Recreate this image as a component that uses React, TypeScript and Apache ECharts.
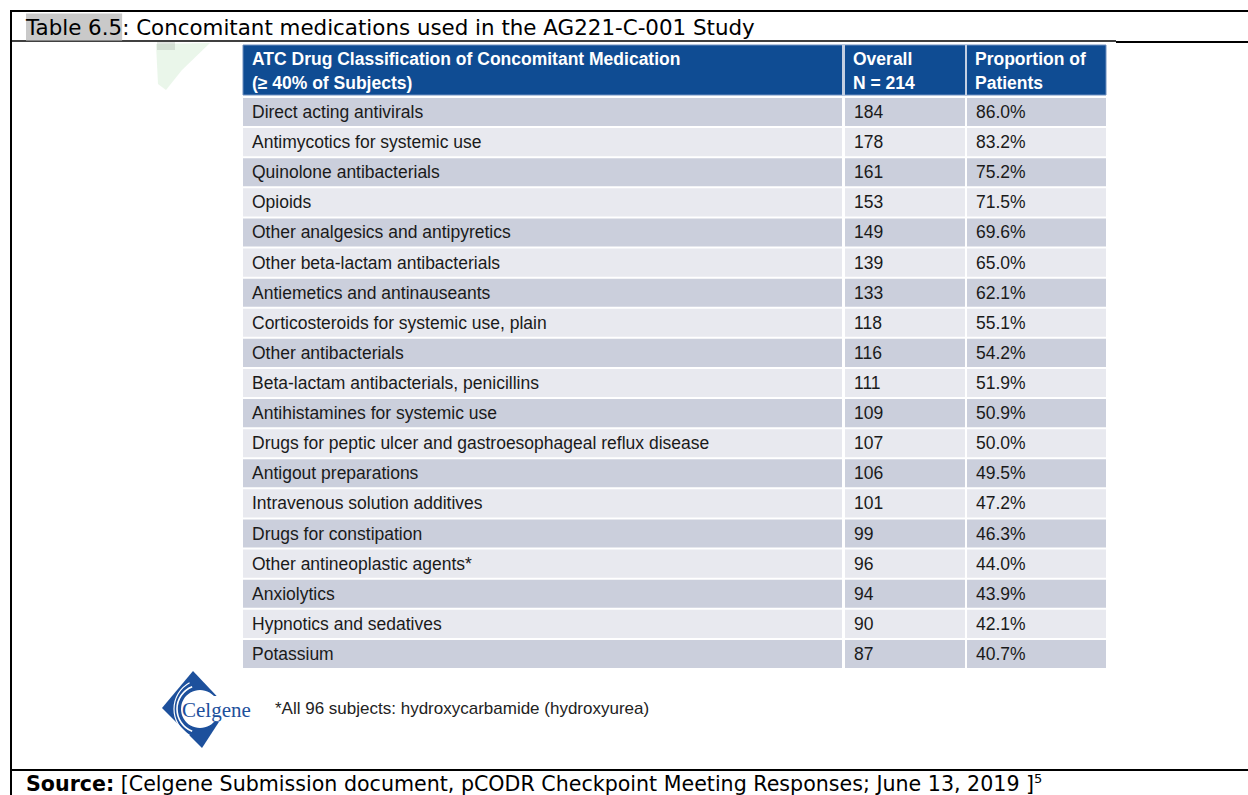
import React, { useEffect, useRef } from "react";
import * as echarts from "echarts";

const categories = [
  "Direct acting antivirals",
  "Antimycotics for systemic use",
  "Quinolone antibacterials",
  "Opioids",
  "Other analgesics and antipyretics",
  "Other beta-lactam antibacterials",
  "Antiemetics and antinauseants",
  "Corticosteroids for systemic use, plain",
  "Other antibacterials",
  "Beta-lactam antibacterials, penicillins",
  "Antihistamines for systemic use",
  "Drugs for peptic ulcer and gastroesophageal reflux disease",
  "Antigout preparations",
  "Intravenous solution additives",
  "Drugs for constipation",
  "Other antineoplastic agents*",
  "Anxiolytics",
  "Hypnotics and sedatives",
  "Potassium",
];
const overall = [184, 178, 161, 153, 149, 139, 133, 118, 116, 111, 109, 107, 106, 101, 99, 96, 94, 90, 87];
const proportion = [86.0, 83.2, 75.2, 71.5, 69.6, 65.0, 62.1, 55.1, 54.2, 51.9, 50.9, 50.0, 49.5, 47.2, 46.3, 44.0, 43.9, 42.1, 40.7];

const headerCol1 = ["ATC Drug Classification of Concomitant Medication", "(\u2265 40% of Subjects)"];
const headerCol2 = ["Overall", "N = 214"];
const headerCol3 = ["Proportion of", "Patients"];

const titleLead = "Table 6.5";
const titleRest = ": Concomitant medications used in the AG221-C-001 Study";
const footnote = "*All 96 subjects: hydroxycarbamide (hydroxyurea)";
const sourceLabel = "Source:";
const sourceText = " [Celgene Submission document, pCODR Checkpoint Meeting Responses; June 13, 2019 ]";

export default function App() {
  const ref = useRef<HTMLDivElement>(null);
  useEffect(() => {
    if (!ref.current) return;
    const chart = echarts.init(ref.current, null, { renderer: "svg" });
    const DARK = "#cbcfdc";
    const LIGHT = "#e8e9ef";
    const BLUE = "#0f4c93";
    const CELL_FONT = "17.5px 'Liberation Sans', Arial, sans-serif";
    const HEAD_FONT = "bold 17.5px 'Liberation Sans', Arial, sans-serif";
    const DOC_FONT = "'DejaVu Sans', Tahoma, sans-serif";
    const LOGO = "#1d509c";
    // column edges in x-axis units (table width 863)
    const colEdges = [
      [0, 599],
      [602, 722],
      [724, 863],
    ];
    const pad = 9;

    const data = categories.map((c, i) => [i, overall[i], proportion[i]]);

    const option: any = {
      animation: false,
      backgroundColor: "#ffffff",
      grid: { left: 243, top: 97, width: 863, height: 572 },
      xAxis: { type: "value", min: 0, max: 863, show: false },
      yAxis: { type: "category", data: categories, inverse: true, show: false },
      series: [
        {
          type: "custom",
          data,
          encode: { x: 1, y: 0 },
          renderItem: (params: any, api: any) => {
            const i = api.value(0);
            const h = api.size([0, 1])[1];
            const cy = api.coord([0, i])[1];
            const top = cy - h / 2 + 1;
            const bh = h - 2;
            const fill = i % 2 === 0 ? DARK : LIGHT;
            const texts = [categories[i], String(overall[i]), proportion[i].toFixed(1) + "%"];
            const children: any[] = [];
            colEdges.forEach((e, k) => {
              const x0 = api.coord([e[0], i])[0];
              const x1 = api.coord([e[1], i])[0];
              children.push({
                type: "rect",
                shape: { x: x0, y: top, width: x1 - x0, height: bh },
                style: { fill },
              });
              children.push({
                type: "text",
                x: x0 + pad,
                y: cy,
                style: {
                  text: texts[k],
                  font: CELL_FONT,
                  fill: "#1a1a1a",
                  verticalAlign: "middle",
                  align: "left",
                },
              });
            });
            return { type: "group", children };
          },
        },
      ],
      graphic: [
        // document frame lines
        { type: "line", shape: { x1: 11, y1: 11, x2: 1248, y2: 11 }, style: { stroke: "#000", lineWidth: 2 } },
        { type: "line", shape: { x1: 11, y1: 10, x2: 11, y2: 795 }, style: { stroke: "#000", lineWidth: 2 } },
        { type: "line", shape: { x1: 11, y1: 41, x2: 1116, y2: 41 }, style: { stroke: "#000", lineWidth: 1.5 } },
        { type: "line", shape: { x1: 1116, y1: 42, x2: 1248, y2: 42 }, style: { stroke: "#000", lineWidth: 2 } },
        { type: "line", shape: { x1: 11, y1: 770, x2: 1248, y2: 770 }, style: { stroke: "#000", lineWidth: 2 } },
        // title
        {
          type: "text",
          x: 26,
          y: 27,
          style: {
            text: "{hl|" + titleLead + "}{n|" + titleRest + "}",
            verticalAlign: "middle",
            rich: {
              hl: { font: "21.4px " + DOC_FONT, fill: "#000", backgroundColor: "#c9c9c9", lineHeight: 27, height: 27 },
              n: { font: "21.4px " + DOC_FONT, fill: "#000", lineHeight: 27, height: 27 },
            },
          },
        },
        // source
        {
          type: "text",
          x: 26,
          y: 784,
          style: {
            text: "{b|" + sourceLabel + "}{n|" + sourceText + "}{s|5}",
            verticalAlign: "middle",
            rich: {
              b: { font: "bold 20.6px " + DOC_FONT, fill: "#000", lineHeight: 24 },
              n: { font: "20.6px " + DOC_FONT, fill: "#000", lineHeight: 24 },
              s: { font: "13px " + DOC_FONT, fill: "#000", lineHeight: 24, verticalAlign: "top" },
            },
          },
        },
        // faint watermark
        {
          type: "polygon",
          shape: { points: [[156, 44], [210, 43], [182, 70], [166, 90], [158, 84]] },
          style: { fill: "rgba(160,215,160,0.22)" },
        },
        { type: "rect", shape: { x: 157, y: 42, width: 18, height: 8 }, style: { fill: "rgba(170,180,170,0.35)" } },
        // table header
        { type: "rect", shape: { x: 243, y: 45, width: 863, height: 50 }, style: { fill: BLUE, stroke: "#6f8fbf", lineWidth: 1 } },
        { type: "rect", shape: { x: 842, y: 45, width: 3, height: 50 }, style: { fill: "#c3cfe2" } },
        { type: "rect", shape: { x: 965, y: 45, width: 2, height: 50 }, style: { fill: "#c3cfe2" } },
        { type: "text", x: 252, y: 59, style: { text: headerCol1[0], font: HEAD_FONT, fill: "#fff", verticalAlign: "middle" } },
        { type: "text", x: 252, y: 83, style: { text: headerCol1[1], font: HEAD_FONT, fill: "#fff", verticalAlign: "middle" } },
        { type: "text", x: 853, y: 59, style: { text: headerCol2[0], font: HEAD_FONT, fill: "#fff", verticalAlign: "middle" } },
        { type: "text", x: 853, y: 83, style: { text: headerCol2[1], font: HEAD_FONT, fill: "#fff", verticalAlign: "middle" } },
        { type: "text", x: 975, y: 59, style: { text: headerCol3[0], font: HEAD_FONT, fill: "#fff", verticalAlign: "middle" } },
        { type: "text", x: 975, y: 83, style: { text: headerCol3[1], font: HEAD_FONT, fill: "#fff", verticalAlign: "middle" } },
        // footnote
        { type: "text", x: 275, y: 708, style: { text: footnote, font: "17px 'Liberation Sans', Arial, sans-serif", fill: "#222", verticalAlign: "middle" } },
        // Celgene logo
        {
          type: "group",
          children: [
            { type: "polygon", shape: { points: [[193, 671], [228, 708], [202, 748], [162, 708]] }, style: { fill: LOGO } },
            { type: "circle", shape: { cx: 200, cy: 709, r: 19 }, style: { fill: "#fff" } },
            { type: "rect", shape: { x: 206, y: 696, width: 44, height: 26 }, style: { fill: "#fff" } },
            { type: "arc", shape: { cx: 201, cy: 709, r: 24, startAngle: Math.PI * 0.62, endAngle: Math.PI * 1.38 }, style: { stroke: "#fff", lineWidth: 1.6, fill: "none" } },
            { type: "arc", shape: { cx: 204, cy: 709, r: 30, startAngle: Math.PI * 0.66, endAngle: Math.PI * 1.34 }, style: { stroke: "#fff", lineWidth: 1.2, fill: "none" } },
            { type: "text", x: 182, y: 710, style: { text: "Celgene", font: "21px 'Liberation Serif', 'Times New Roman', serif", fill: LOGO, verticalAlign: "middle" } },
          ],
        },
      ],
    };
    chart.setOption(option);
    return () => chart.dispose();
  }, []);
  return <div ref={ref} style={{ position: "absolute", left: 0, top: 0, width: 1248, height: 795 }} />;
}
